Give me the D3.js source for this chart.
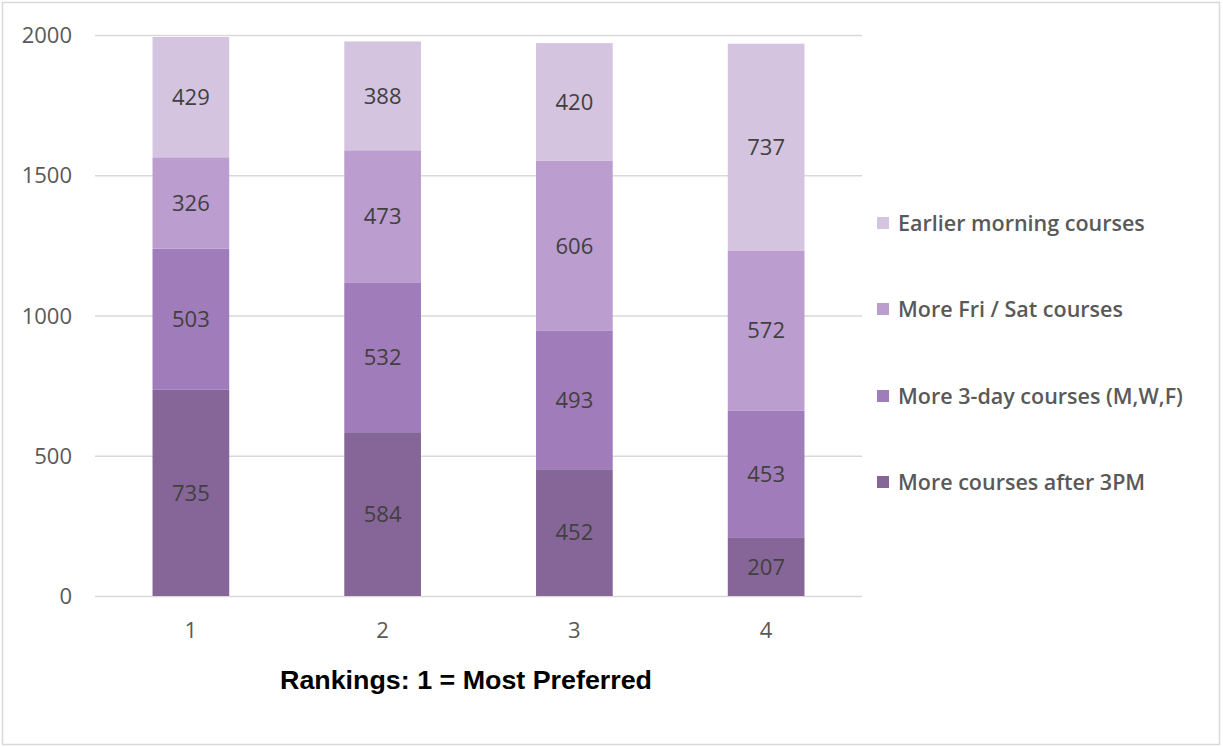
<!DOCTYPE html>
<html>
<head>
<meta charset="utf-8">
<script src="https://cdn.jsdelivr.net/npm/d3@7"></script>
<style>
  html, body { margin: 0; padding: 0; background: #fff; }
  svg { display: block; }
</style>
</head>
<body>
<svg id="chart" width="1223" height="747"></svg>
<script>
// ---- Data ----
const categories = ["1", "2", "3", "4"];
const seriesNames = ["More courses after 3PM", "More 3-day courses (M,W,F)", "More Fri / Sat courses", "Earlier morning courses"];
const after3PM   = [735, 584, 452, 207];
const threeDay   = [503, 532, 493, 453];
const friSat     = [326, 473, 606, 572];
const earlierAM  = [429, 388, 420, 737];
const yTicks = [0, 500, 1000, 1500, 2000];
const xTitle = "Rankings: 1 = Most Preferred";
const colors = ["#866699", "#a17cba", "#bb9dd0", "#d5c4e0"];

const seriesValues = [after3PM, threeDay, friSat, earlierAM];
const rows = categories.map((c, i) => {
  const r = { cat: c };
  seriesNames.forEach((s, j) => r[s] = seriesValues[j][i]);
  return r;
});

const svg = d3.select("#chart");
const fontFam = "'Open Sans', 'Noto Sans', sans-serif";

// outer border
svg.append("rect").attr("x", 2.5).attr("y", 2.5).attr("width", 1217).attr("height", 742)
  .attr("fill", "#fff").attr("stroke", "#d9d9d9").attr("stroke-width", 1.5);

const plot = { left: 95, right: 862, top: 35, bottom: 596 };

const x = d3.scaleBand().domain(categories).range([plot.left, plot.right])
  .paddingInner(0.6).paddingOuter(0.3);
const y = d3.scaleLinear().domain([0, 2000]).range([plot.bottom, plot.top]);

// gridlines
svg.append("g").selectAll("line").data(yTicks).join("line")
  .attr("x1", plot.left).attr("x2", plot.right)
  .attr("y1", d => y(d) + 0.5).attr("y2", d => y(d) + 0.5)
  .attr("stroke", "#d9d9d9").attr("stroke-width", 1.3);

// y axis labels
const yAxis = d3.axisLeft(y).tickValues(yTicks).tickSize(0).tickPadding(0).tickFormat(d3.format("d"));
const yg = svg.append("g").attr("transform", `translate(${72},0)`).call(yAxis);
yg.select(".domain").remove();
yg.selectAll("text").attr("font-family", fontFam).attr("font-size", 22).attr("fill", "#595959").attr("dy", "0.35em");

// x axis labels
const xAxis = d3.axisBottom(x).tickSize(0).tickPadding(0);
const xg = svg.append("g").attr("transform", `translate(0,${630})`).call(xAxis);
xg.select(".domain").remove();
xg.selectAll("text").attr("font-family", fontFam).attr("font-size", 22).attr("fill", "#595959").attr("dy", "0.35em");

// stacked bars
const stack = d3.stack().keys(seriesNames)(rows);
const layers = svg.append("g").selectAll("g").data(stack).join("g")
  .attr("fill", (d, i) => colors[i]);
layers.selectAll("rect").data(d => d).join("rect")
  .attr("x", d => x(d.data.cat))
  .attr("y", d => y(d[1]))
  .attr("width", x.bandwidth())
  .attr("height", d => y(d[0]) - y(d[1]));

// data labels
layers.selectAll("text").data(d => d).join("text")
  .attr("x", d => x(d.data.cat) + x.bandwidth() / 2)
  .attr("y", d => (y(d[0]) + y(d[1])) / 2)
  .attr("dy", "0.35em")
  .attr("text-anchor", "middle")
  .attr("font-family", fontFam).attr("font-size", 22).attr("fill", "#404040")
  .text(d => d[1] - d[0]);

// x title
svg.append("text").attr("x", 466).attr("y", 689).attr("text-anchor", "middle")
  .attr("font-family", "'Liberation Sans', Arial, sans-serif").attr("font-weight", "bold")
  .attr("font-size", 26).attr("fill", "#000")
  .attr("textLength", 372).attr("lengthAdjust", "spacingAndGlyphs")
  .text(xTitle);

// legend (top to bottom: reverse order)
const legendY = [223, 309, 396, 482];
const legendOrder = [3, 2, 1, 0];
const lg = svg.append("g").selectAll("g").data(legendOrder).join("g")
  .attr("transform", (d, i) => `translate(877,${legendY[i]})`);
lg.append("rect").attr("x", 0).attr("y", -6).attr("width", 12).attr("height", 12)
  .attr("fill", d => colors[d]);
lg.append("text").attr("x", 21).attr("y", 0).attr("dy", "0.35em")
  .attr("font-family", fontFam).attr("font-weight", 600).attr("font-size", 21.5).attr("fill", "#595959")
  .text(d => seriesNames[d]);
</script>
</body>
</html>
